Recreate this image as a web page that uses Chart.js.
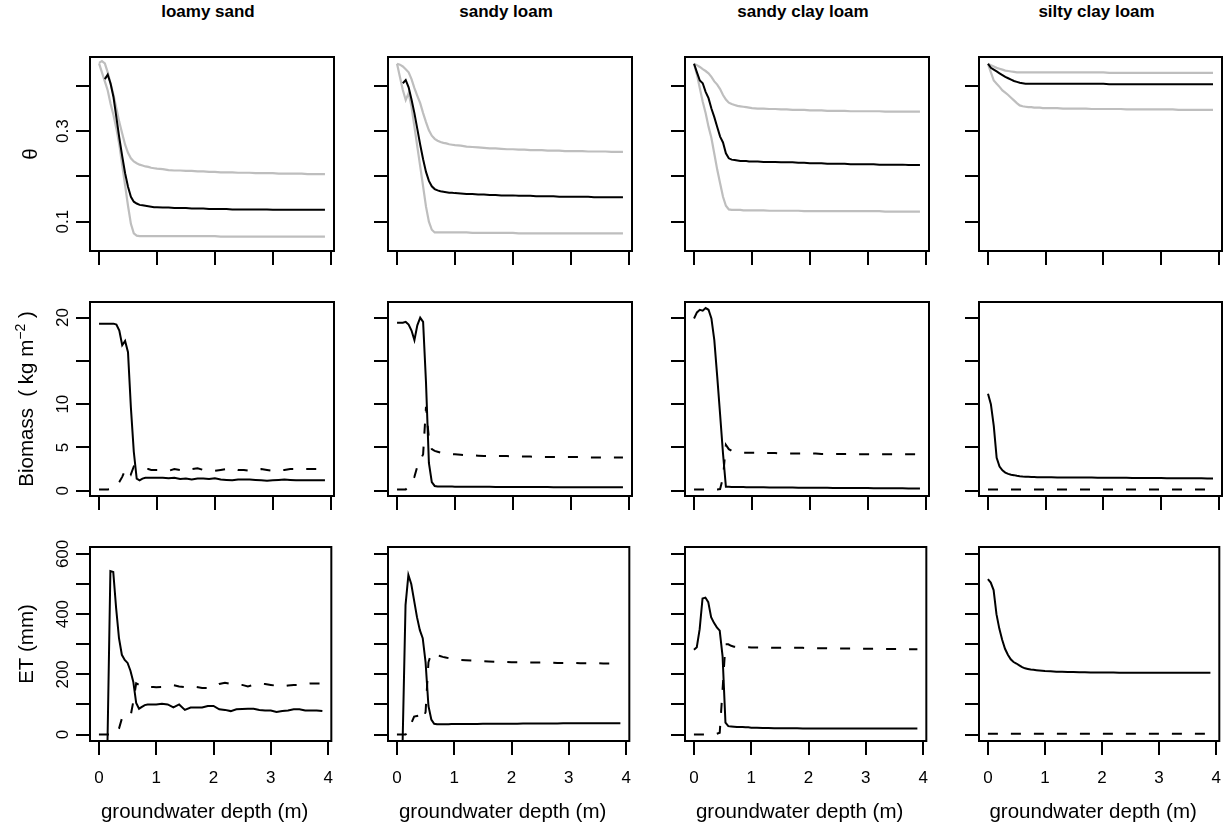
<!DOCTYPE html>
<html>
<head>
<meta charset="utf-8">
<script src="https://cdn.jsdelivr.net/npm/chart.js@4.4.1/dist/chart.umd.min.js"></script>
<style>
  body { margin: 0; background: #fff; width: 1223px; height: 826px; position: relative; overflow: hidden;
         font-family: "Liberation Sans", Arial, Helvetica, sans-serif; }
  canvas { position: absolute; }
  .soil { position: absolute; top: 2px; text-align: center; font-weight: bold; font-size: 17px; line-height: 20px; color: #000; }
</style>
</head>
<body>
<script>
// groundwater depth (m), shared by all series
const depth = [0,0.05,0.1,0.15,0.2,0.25,0.3,0.35,0.4,0.45,0.5,0.55,0.6,0.65,0.7,0.75,0.8,0.85,0.9,0.95,1,
  1.1,1.2,1.3,1.4,1.5,1.6,1.7,1.8,1.9,2,
  2.1,2.2,2.3,2.4,2.5,2.6,2.7,2.8,2.9,3,
  3.1,3.2,3.3,3.4,3.5,3.6,3.7,3.8,3.9];

const soils = ['loamy sand', 'sandy loam', 'sandy clay loam', 'silty clay loam'];
const xTitle = 'groundwater depth (m)';
const xTicks = [0, 1, 2, 3, 4];

// soil moisture θ : mean (black) and range (grey)
const thetaLS   = [null,null,.415,.425,.405,.375,.33,.285,.245,.207,.177,.155,.144,.14,.137,.136,.135,.134,.133,.132,.132,
  .131,.131,.13,.13,.13,.129,.129,.129,.128,.128,
  .128,.128,.127,.127,.127,.127,.127,.127,.127,.126,
  .126,.126,.126,.126,.126,.126,.126,.126,.126];
const thetaLSHi = [.451,.455,.45,.43,.405,.38,.35,.32,.295,.27,.252,.24,.233,.229,.226,.224,.222,.221,.219,.218,.217,
  .216,.214,.213,.213,.212,.212,.211,.211,.21,.21,
  .209,.209,.209,.208,.208,.208,.207,.207,.207,.207,
  .206,.206,.206,.206,.206,.205,.205,.205,.205];
const thetaLSLo = [.45,.43,.41,.39,.36,.335,.305,.27,.225,.18,.135,.095,.074,.069,.068,.068,.068,.068,.068,.068,.068,
  .068,.068,.068,.068,.068,.068,.068,.068,.068,.068,
  .067,.067,.067,.067,.067,.067,.067,.067,.067,.067,
  .067,.067,.067,.067,.067,.067,.067,.067,.067];

const thetaSL   = [null,null,.406,.413,.397,.37,.34,.305,.27,.238,.21,.19,.178,.172,.169,.167,.166,.165,.164,.164,.163,
  .162,.161,.161,.16,.16,.159,.159,.158,.158,.158,
  .157,.157,.157,.156,.156,.156,.156,.155,.155,.155,
  .155,.155,.155,.154,.154,.154,.154,.154,.154];
const thetaSLHi = [.449,.447,.443,.437,.43,.415,.395,.378,.362,.34,.32,.302,.29,.283,.279,.276,.274,.273,.271,.27,.269,
  .268,.266,.265,.264,.263,.262,.262,.261,.26,.26,
  .259,.259,.258,.258,.258,.257,.257,.257,.256,.256,
  .256,.256,.255,.255,.255,.255,.254,.254,.254];
const thetaSLLo = [.449,.42,.391,.369,.384,.354,.31,.266,.222,.178,.133,.1,.082,.076,.076,.076,.076,.076,.076,.076,.076,
  .076,.076,.075,.075,.075,.075,.075,.075,.075,.075,
  .074,.074,.074,.074,.074,.074,.074,.074,.074,.074,
  .074,.074,.074,.074,.074,.074,.074,.074,.074];

const thetaSCL   = [.449,.43,.412,.406,.387,.373,.35,.331,.309,.288,.275,.251,.24,.237,.236,.235,.234,.234,.234,.233,.233,
  .233,.232,.232,.232,.231,.231,.231,.23,.23,.229,
  .229,.229,.228,.228,.228,.228,.227,.227,.227,.227,
  .227,.226,.226,.226,.226,.226,.225,.225,.225];
const thetaSCLHi = [.449,.446,.442,.437,.433,.428,.42,.41,.403,.393,.38,.37,.363,.36,.358,.356,.355,.354,.353,.352,.351,
  .35,.35,.349,.349,.348,.348,.347,.347,.347,.346,
  .346,.346,.345,.345,.345,.345,.344,.344,.344,.344,
  .344,.344,.343,.343,.343,.343,.343,.343,.343];
const thetaSCLLo = [.449,.425,.395,.365,.34,.31,.285,.25,.215,.185,.155,.135,.127,.126,.126,.126,.126,.125,.125,.125,.125,
  .125,.125,.124,.124,.124,.124,.124,.124,.123,.123,
  .123,.123,.123,.123,.123,.123,.123,.123,.123,.123,
  .123,.123,.122,.122,.122,.122,.122,.122,.122];

const thetaSiCL   = [.449,.44,.436,.432,.428,.424,.42,.417,.414,.411,.409,.407,.406,.405,.405,.405,.405,.405,.405,.405,.405,
  .405,.405,.405,.405,.405,.405,.405,.405,.405,.405,
  .404,.404,.404,.404,.404,.404,.404,.404,.404,.404,
  .404,.404,.404,.404,.404,.404,.404,.404,.404];
const thetaSiCLHi = [.449,.446,.443,.44,.438,.436,.434,.433,.432,.431,.43,.43,.43,.43,.43,.43,.43,.43,.43,.43,.43,
  .43,.43,.43,.43,.43,.43,.43,.43,.43,.43,
  .429,.429,.429,.429,.429,.429,.429,.429,.429,.429,
  .429,.429,.429,.429,.429,.429,.429,.429,.429];
const thetaSiCLLo = [.449,.43,.412,.405,.398,.39,.385,.38,.374,.368,.362,.357,.355,.354,.353,.353,.352,.352,.352,.351,.351,
  .351,.351,.35,.35,.35,.35,.35,.349,.349,.349,
  .349,.349,.349,.348,.348,.348,.348,.348,.348,.348,
  .348,.348,.347,.347,.347,.347,.347,.347,.347];

// biomass (kg m-2): solid and dashed series
const bioLS  = [19.3,19.3,19.3,19.3,19.3,19.3,19.2,18.5,16.8,17.3,16,9.6,4.5,1.4,1.2,1.4,1.5,1.5,1.5,1.5,1.5,
  1.5,1.45,1.5,1.35,1.4,1.3,1.4,1.4,1.35,1.45,
  1.3,1.25,1.2,1.3,1.3,1.3,1.25,1.2,1.15,1.2,
  1.25,1.3,1.25,1.2,1.2,1.2,1.2,1.2,1.2];
const bioLSd = [.15,.15,.15,.15,.2,.3,.5,1,1.6,2.4,2.6,1.9,2.8,2.7,2.6,2.6,2.5,2.5,2.4,2.4,2.4,
  2.4,2.3,2.5,2.4,2.3,2.5,2.6,2.4,2.3,2.3,
  2.4,2.5,2.6,2.4,2.4,2.3,2.4,2.5,2.4,2.3,
  2.4,2.4,2.5,2.5,2.5,2.5,2.5,2.5,2.5];

const bioSL  = [19.4,19.4,19.4,19.5,19.2,18.5,17.4,19.1,20,19.5,12.5,3.2,1,.55,.5,.5,.5,.5,.48,.48,.47,
  .47,.46,.46,.45,.45,.45,.44,.44,.44,.43,
  .43,.43,.42,.42,.42,.42,.41,.41,.41,.41,
  .4,.4,.4,.4,.4,.4,.4,.4,.4];
const bioSLd = [.15,.15,.15,.15,.5,1,1.6,2.8,3.5,4.2,9.7,6,4.8,4.6,4.5,4.4,4.35,4.3,4.25,4.2,4.2,
  4.15,4.1,4.1,4.05,4,4,4,4,4,3.95,
  3.95,3.95,3.95,3.9,3.9,3.9,3.9,3.9,3.9,3.9,
  3.9,3.9,3.85,3.85,3.85,3.85,3.85,3.85,3.85];

const bioSCL  = [19.9,20.6,20.9,20.8,21.1,20.9,19.9,17.4,13.2,8.8,4.3,.46,.45,.44,.43,.43,.42,.42,.41,.41,.4,
  .4,.39,.38,.38,.37,.36,.36,.35,.35,.34,
  .34,.33,.33,.32,.32,.31,.31,.3,.3,.3,
  .29,.29,.29,.28,.28,.28,.27,.27,.27];
const bioSCLd = [.15,.15,.15,.15,.15,.15,.15,.15,.15,.2,1.5,5.3,4.8,4.6,4.5,4.5,4.45,4.4,4.4,4.4,4.4,
  4.4,4.35,4.35,4.35,4.3,4.3,4.3,4.3,4.3,4.3,
  4.3,4.25,4.25,4.25,4.25,4.25,4.25,4.2,4.2,4.2,
  4.2,4.2,4.2,4.2,4.2,4.2,4.2,4.2,4.2];

const bioSiCL  = [11.2,10,7.5,3.8,2.8,2.35,2.1,1.95,1.85,1.8,1.72,1.67,1.63,1.6,1.6,1.59,1.58,1.57,1.56,1.56,1.55,
  1.55,1.54,1.54,1.53,1.53,1.52,1.52,1.52,1.51,1.5,
  1.5,1.5,1.49,1.49,1.48,1.48,1.47,1.47,1.46,1.46,
  1.45,1.45,1.45,1.44,1.44,1.43,1.43,1.42,1.42];
const bioSiCLd = [.15,.15,.15,.15,.15,.15,.15,.15,.15,.15,.15,.15,.15,.15,.15,.15,.15,.15,.15,.15,.15,
  .15,.15,.15,.15,.15,.15,.15,.15,.15,.15,
  .15,.15,.15,.15,.15,.15,.15,.15,.15,.15,
  .15,.15,.15,.15,.15,.15,.15,.15,.15];

// ET (mm): solid and dashed series
const etLS  = [null,null,null,-18,543,540,420,320,265,248,238,212,175,105,86,92,98,100,100,100,100,
  102,100,90,100,82,90,90,90,95,95,
  84,82,78,84,85,86,86,82,80,80,
  75,78,80,84,84,80,80,80,78];
const etLSd = [0,0,0,0,0,0,3,20,53,55,57,59,110,170,165,160,158,158,158,158,157,
  158,160,164,160,158,160,158,155,155,158,
  168,172,168,165,165,160,165,170,168,165,
  162,160,163,165,165,168,170,170,170];

const etSL  = [null,null,-18,430,530,500,445,390,347,320,240,95,50,36,34,34,34,34,34,35,35,
  35,35,35,35,36,36,36,36,36,36,
  36,37,37,37,37,37,37,37,38,38,
  38,38,38,38,38,38,38,38,38];
const etSLd = [0,0,0,0,10,37,60,62,64,50,75,240,270,268,264,261,258,256,254,252,250,
  248,247,246,245,244,243,242,242,241,240,
  240,240,239,239,239,239,239,238,238,238,
  238,237,237,237,237,236,236,236,236];

const etSCL  = [282,290,350,452,455,440,390,371,356,345,260,40,28,27,26,25,25,25,24,24,23,
  23,22,22,21,21,21,21,21,20,20,
  20,20,20,20,20,20,20,20,20,20,
  20,20,20,20,20,20,20,20,20];
const etSCLd = [0,0,0,0,0,0,0,0,3,6,150,300,300,295,292,291,290,290,290,290,289,
  289,289,289,288,288,288,288,288,288,287,
  287,287,287,286,286,286,286,286,285,285,
  285,285,284,284,284,284,283,283,283];

const etSiCL  = [516,505,480,400,352,315,285,265,250,241,236,230,224,220,218,216,215,214,213,212,211,
  210,209,209,208,208,207,207,206,206,206,
  206,206,205,205,205,205,205,205,205,205,
  205,205,205,205,205,205,205,205,205];
const etSiCLd = [3,3,3,3,3,3,3,3,3,3,3,3,3,3,3,3,3,3,3,3,3,
  3,3,3,3,3,3,3,3,3,3,
  3,3,3,3,3,3,3,3,3,3,
  3,3,3,3,3,3,3,3,3];

// y axes: tick positions and the ticks that carry a label
const thetaTicks = [0.1, 0.2, 0.3, 0.4];
const thetaLabels = [0.1, 0.3];
const bioTicks = [0, 5, 10, 15, 20];
const bioLabels = [0, 5, 10, 20];
const etTicks = [0, 100, 200, 300, 400, 500, 600];
const etLabels = [0, 200, 400, 600];

// layout (pixels)
const colLeft = [90, 388, 685, 979];
const colWidth = [244, 244, 244, 243];
const rowTop = [57, 302, 547];
const boxH = 194;
const FONT = '"Liberation Sans", Arial, Helvetica, sans-serif';
const GREY = '#bebebe';

const rows = [
  { min: 0.035, max: 0.464, ticks: thetaTicks, labels: thetaLabels, ylab: [['θ', false]], ylabX: 37,
    series: [[thetaLS, thetaLSHi, thetaLSLo], [thetaSL, thetaSLHi, thetaSLLo],
             [thetaSCL, thetaSCLHi, thetaSCLLo], [thetaSiCL, thetaSiCLHi, thetaSiCLLo]] },
  { min: -0.61, max: 21.8, ticks: bioTicks, labels: bioLabels,
    ylab: [['Biomass  ( kg m', false], ['−2', true], [' )', false]], ylabX: 33,
    series: [[bioLS, bioLSd], [bioSL, bioSLd], [bioSCL, bioSCLd], [bioSiCL, bioSiCLd]] },
  { min: -21.3, max: 623, ticks: etTicks, labels: etLabels, ylab: [['ET (mm)', false]], ylabX: 33,
    series: [[etLS, etLSd], [etSL, etSLd], [etSCL, etSCLd], [etSiCL, etSiCLd]] }
];

const panelDecor = {
  id: 'panelDecor',
  afterDatasetsDraw(chart, args, o) {
    const { ctx, chartArea: a } = chart;
    ctx.save();
    ctx.strokeStyle = '#000';
    ctx.lineWidth = 2;
    ctx.strokeRect(a.left, a.top, a.right - a.left, a.bottom - a.top);
    ctx.fillStyle = '#000';
    if (o.yLabels) {
      ctx.font = '17px ' + FONT;
      ctx.textAlign = 'center';
      ctx.textBaseline = 'alphabetic';
      o.yLabels.forEach(v => {
        const y = chart.scales.y.getPixelForValue(v);
        ctx.save();
        ctx.translate(a.left - 22, y);
        ctx.rotate(-Math.PI / 2);
        ctx.fillText(String(v), 0, 0);
        ctx.restore();
      });
    }
    if (o.ylab) {
      const big = '20.5px ' + FONT, small = '14px ' + FONT;
      let total = 0;
      o.ylab.forEach(([t, sup]) => { ctx.font = sup ? small : big; total += ctx.measureText(t).width; });
      ctx.save();
      ctx.translate(o.ylabX, (a.top + a.bottom) / 2);
      ctx.rotate(-Math.PI / 2);
      ctx.textAlign = 'left';
      let x = -total / 2;
      o.ylab.forEach(([t, sup]) => {
        ctx.font = sup ? small : big;
        ctx.fillText(t, x, sup ? -8 : 0);
        x += ctx.measureText(t).width;
      });
      ctx.restore();
    }
    if (o.xTitle) {
      ctx.font = '20.5px ' + FONT;
      ctx.textAlign = 'center';
      ctx.textBaseline = 'alphabetic';
      ctx.fillText(o.xTitle, (a.left + a.right) / 2 - 6, a.bottom + 77);
    }
    ctx.restore();
  }
};

soils.forEach((name, c) => {
  const d = document.createElement('div');
  d.className = 'soil';
  d.style.left = (colLeft[c] - 4) + 'px';
  d.style.width = colWidth[c] + 'px';
  d.textContent = name;
  document.body.appendChild(d);
});

rows.forEach((row, r) => {
  for (let c = 0; c < 4; c++) {
    const W = colWidth[c];
    const cvW = 90 + W + 12;
    const cvH = 8 + boxH + (r === 2 ? 90 : 24);
    const cv = document.createElement('canvas');
    cv.width = cvW; cv.height = cvH;
    cv.style.left = (colLeft[c] - 90) + 'px';
    cv.style.top = (rowTop[r] - 8) + 'px';
    document.body.appendChild(cv);

    const ser = row.series[c];
    const datasets = ser.map((vals, k) => {
      const grey = r === 0 && k > 0;
      return {
        data: depth.map((x, i) => ({ x: x, y: vals[i] })),
        borderColor: grey ? GREY : '#000',
        borderWidth: grey ? 2.2 : 2,
        borderDash: (r > 0 && k === 1) ? [10, 13] : [],
        pointRadius: 0,
        tension: 0,
        spanGaps: false
      };
    });

    const tickGrid = { drawOnChartArea: false, drawTicks: true, tickLength: 14, color: '#000', lineWidth: 2 };

    new Chart(cv, {
      type: 'line',
      data: { datasets },
      options: {
        responsive: false,
        animation: false,
        devicePixelRatio: 1,
        layout: { padding: { left: 0, right: 12, top: 8, bottom: 0 }, autoPadding: false },
        plugins: {
          legend: { display: false },
          tooltip: { enabled: false },
          panelDecor: {
            yLabels: c === 0 ? row.labels : null,
            ylab: c === 0 ? row.ylab : null,
            ylabX: row.ylabX,
            xTitle: r === 2 ? xTitle : null
          }
        },
        scales: {
          x: {
            type: 'linear', min: -0.156, max: 4.056,
            afterBuildTicks: s => { s.ticks = xTicks.map(v => ({ value: v })); },
            afterFit: s => { s.height = cvH - 8 - boxH; },
            grid: tickGrid,
            border: { display: false },
            ticks: { display: r === 2, autoSkip: false, maxRotation: 0, minRotation: 0, padding: 13,
                     color: '#000', font: { family: FONT, size: 17 }, callback: v => String(v) }
          },
          y: {
            type: 'linear', min: row.min, max: row.max,
            afterBuildTicks: s => { s.ticks = row.ticks.map(v => ({ value: v })); },
            afterFit: s => { s.width = 90; },
            grid: tickGrid,
            border: { display: false },
            ticks: { display: false, autoSkip: false }
          }
        }
      },
      plugins: [panelDecor]
    });
  }
});
</script>
</body>
</html>
